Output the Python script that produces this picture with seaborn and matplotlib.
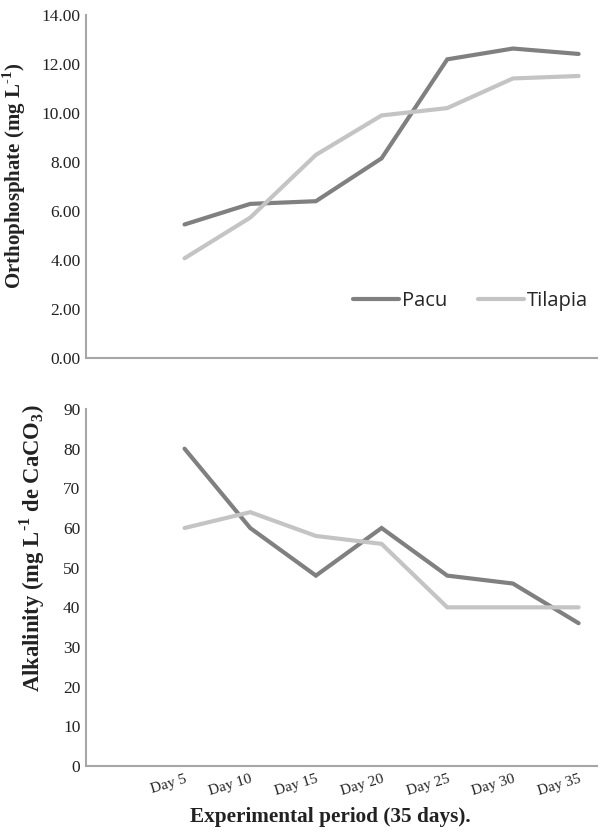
import numpy as np
import pandas as pd
import matplotlib
matplotlib.use("Agg")
import matplotlib.pyplot as plt
import seaborn as sns

# Values
days = ["Day 5", "Day 10", "Day 15", "Day 20", "Day 25", "Day 30", "Day 35"]
pacu_ortho = [5.45, 6.29, 6.40, 8.15, 12.19, 12.63, 12.41]
tilapia_ortho = [4.07, 5.73, 8.29, 9.90, 10.20, 11.41, 11.51]
pacu_alk = [80, 60, 48, 60, 48, 46, 36]
tilapia_alk = [60, 64, 58, 56, 40, 40, 40]

species = ["Pacu", "Tilapia"]
colors = {"Pacu": "#808080", "Tilapia": "#c4c4c4"}

sns.set_style("white")
plt.rcParams["font.family"] = ["Liberation Serif", "DejaVu Serif"]
plt.rcParams["mathtext.fontset"] = "custom"
plt.rcParams["mathtext.rm"] = "Liberation Serif"
plt.rcParams["mathtext.bf"] = "Liberation Serif:bold"


def long_df(pacu, tilapia):
    return pd.DataFrame({
        "pos": list(range(len(days))) * 2,
        "value": pacu + tilapia,
        "Species": ["Pacu"] * len(days) + ["Tilapia"] * len(days),
    })


fig = plt.figure(figsize=(6.02, 8.32), dpi=100)
ax1 = fig.add_axes([0.1429, 0.5697, 0.8488, 0.4123])
ax2 = fig.add_axes([0.1429, 0.0793, 0.8488, 0.4291])

for ax, df in [(ax1, long_df(pacu_ortho, tilapia_ortho)),
               (ax2, long_df(pacu_alk, tilapia_alk))]:
    sns.lineplot(data=df, x="pos", y="value", hue="Species", hue_order=species,
                 palette=colors, linewidth=3.0, ax=ax, legend=False,
                 solid_capstyle="round", solid_joinstyle="miter")
    ax.set_xlim(-1.5, 6.28)
    for s in ["top", "right"]:
        ax.spines[s].set_visible(False)
    for s in ["left", "bottom"]:
        ax.spines[s].set_color("#a6a6a6")
        ax.spines[s].set_linewidth(1.5)
    ax.tick_params(axis="y", length=2, width=1, color="#a6a6a6",
                   labelsize=12.5, labelcolor="#222222", pad=2)
    ax.set_xlabel("")

# top panel
ax1.set_ylim(0, 14)
ax1.set_yticks(np.arange(0, 15, 2))
ax1.set_yticklabels([f"{v:.2f}" for v in np.arange(0, 15, 2)])
ax1.set_xticks([])
ax1.set_ylabel("Orthophosphate (mg L$^{\\mathbf{\u20101}}$)", fontsize=15,
               fontweight="bold", color="#222222")
ax1.yaxis.set_label_coords(-0.113, 0.53)

handles = [plt.Line2D([], [], color=colors[s], linewidth=3.0,
                      solid_capstyle="round") for s in species]
ax1.legend(handles, species, loc="center right", bbox_to_anchor=(1.018, 0.165),
           ncol=2, frameon=False, handlelength=2.3, handletextpad=0.15,
           columnspacing=1.5,
           prop={"family": ["Open Sans", "DejaVu Sans"], "size": 14.5})

# bottom panel
ax2.set_ylim(0, 90)
ax2.set_yticks(np.arange(0, 91, 10))
ax2.set_xticks(range(len(days)))
ax2.set_xticklabels(days, rotation=17, ha="right", rotation_mode="anchor",
                    fontsize=11, color="#222222")
ax2.tick_params(axis="x", length=0, pad=5)
ax2.set_ylabel("Alkalinity (mg L$^{\\mathbf{\u20101}}$ de CaCO$_{\\mathbf{3}}$)",
               fontsize=16.3, fontweight="bold", color="#222222")
ax2.yaxis.set_label_coords(-0.076, 0.61)
ax2.set_xlabel("Experimental period (35 days).", fontsize=15.3,
               fontweight="bold", color="#222222")
ax2.xaxis.set_label_coords(0.479, -0.115)

fig.savefig("out.png", dpi=100)
